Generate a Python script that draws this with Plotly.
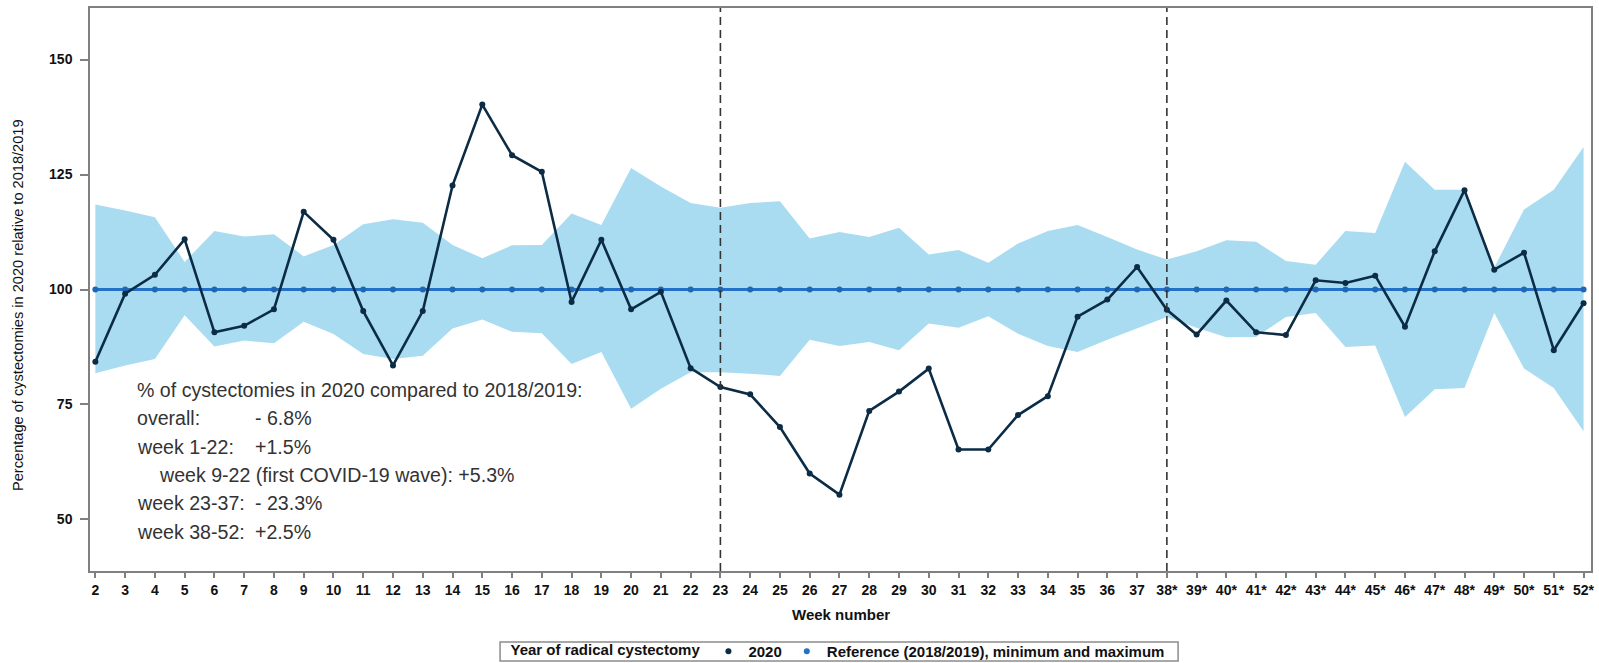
import plotly.graph_objects as go

# Week numbers (weeks 38-52 marked with an asterisk on the axis)
weeks = list(range(2, 53))
week_labels = [str(w) if w < 38 else f"{w}*" for w in weeks]

# 2020 cystectomies as % of the 2018/2019 reference
pct_2020 = [
    84.3, 99.1, 103.2, 110.9, 90.7, 92.1, 95.7, 116.9, 110.8, 95.3,
    83.5, 95.3, 122.6, 140.2, 129.2, 125.6, 97.3, 110.8, 95.7, 99.5,
    82.9, 78.8, 77.2, 70.1, 60.0, 55.4, 73.6, 77.8, 82.8, 65.2,
    65.2, 72.7, 76.8, 94.1, 97.8, 104.9, 95.6, 90.2, 97.6, 90.7,
    90.1, 102.0, 101.4, 103.0, 91.9, 108.3, 121.6, 104.3, 108.0, 86.8,
    97.0,
]

# Reference (2018/2019) level and its minimum / maximum
reference = [100] * len(weeks)
ref_max = [
    118.5, 117.2, 115.7, 106.0, 112.7, 111.5, 112.0, 107.2, 109.7, 114.2,
    115.3, 114.5, 109.7, 106.8, 109.6, 109.7, 116.5, 114.0, 126.4, 122.4,
    118.8, 117.8, 118.8, 119.2, 111.1, 112.5, 111.4, 113.4, 107.6, 108.6,
    105.8, 110.0, 112.7, 114.0, 111.4, 108.7, 106.5, 108.3, 110.7, 110.4,
    106.2, 105.4, 112.7, 112.3, 127.8, 121.7, 121.7, 104.8, 117.4, 121.7,
    131.0,
]
ref_min = [
    81.8, 83.5, 84.9, 94.4, 87.6, 88.9, 88.3, 93.0, 90.3, 86.0,
    84.9, 85.6, 91.5, 93.5, 90.8, 90.5, 83.8, 86.4, 74.1, 78.4,
    82.0, 82.0, 81.7, 81.2, 89.1, 87.7, 88.6, 86.8, 92.6, 91.7,
    94.2, 90.4, 87.7, 86.4, 89.1, 91.5, 94.0, 91.7, 89.6, 89.7,
    94.0, 94.9, 87.5, 87.8, 72.3, 78.3, 78.6, 94.9, 82.8, 78.6,
    69.2,
]

# Period boundaries
period_starts = [23, 38]

summary_lines = [
    ("% of cystectomies in 2020 compared to 2018/2019:", None, False),
    ("overall:", "- 6.8%", False),
    ("week 1-22:", "+1.5%", False),
    ("week 9-22 (first COVID-19 wave): +5.3%", None, True),
    ("week 23-37:", "- 23.3%", False),
    ("week 38-52:", "+2.5%", False),
]

BAND = "#a9dcf1"
REF_BLUE = "#2271c6"
NAVY = "#0c2c46"
FONT = "Liberation Sans, Arial, sans-serif"

fig = go.Figure()

# min/max band
fig.add_trace(go.Scatter(x=weeks, y=ref_min, mode="lines", line=dict(width=0, color=BAND),
                         showlegend=False, hoverinfo="skip"))
fig.add_trace(go.Scatter(x=weeks, y=ref_max, mode="lines", line=dict(width=0, color=BAND),
                         fill="tonexty", fillcolor=BAND, showlegend=False, hoverinfo="skip"))

# reference line
fig.add_trace(go.Scatter(x=weeks, y=reference, mode="lines+markers",
                         line=dict(color=REF_BLUE, width=3),
                         marker=dict(color="#1f66b5", size=6),
                         showlegend=False))

# 2020 line
fig.add_trace(go.Scatter(x=weeks, y=pct_2020, mode="lines+markers",
                         line=dict(color=NAVY, width=2.6),
                         marker=dict(color=NAVY, size=6),
                         showlegend=False))

# legend entries (dots only)
fig.add_trace(go.Scatter(x=[None], y=[None], mode="markers", name="<b>2020</b>",
                         marker=dict(color=NAVY, size=6)))
fig.add_trace(go.Scatter(x=[None], y=[None], mode="markers",
                         name="<b>Reference (2018/2019), minimum and maximum</b>",
                         marker=dict(color=REF_BLUE, size=6)))

shapes = []
for w in period_starts:
    shapes.append(dict(type="line", xref="x", yref="paper", x0=w, x1=w, y0=0, y1=1,
                       line=dict(color="#333333", width=1.6, dash="8px,5px")))

# frame around the legend row
shapes.append(dict(type="rect", xref="paper", yref="paper",
                   x0=0.2732, x1=0.7249, y0=-0.160, y1=-0.126,
                   line=dict(color="#8c8c8c", width=1.5), fillcolor="rgba(0,0,0,0)",
                   layer="above"))

annotations = []
line_y = [0.3215, 0.2712, 0.2208, 0.1705, 0.1202, 0.0698]
for (label, value, indent), yy in zip(summary_lines, line_y):
    annotations.append(dict(xref="paper", yref="paper", x=0.0444 if indent else 0.030, y=yy,
                            xanchor="left", yanchor="middle", text=label, showarrow=False,
                            font=dict(family=FONT, size=19.6, color="#333333")))
    if value is not None:
        annotations.append(dict(xref="paper", yref="paper", x=0.1086, y=yy,
                                xanchor="left", yanchor="middle", text=value, showarrow=False,
                                font=dict(family=FONT, size=19.6, color="#333333")))

# axis titles
annotations.append(dict(xref="paper", yref="paper", x=0, y=0.4725, xshift=-72,
                        xanchor="center", yanchor="middle", textangle=-90, showarrow=False,
                        text="Percentage of cystectomies in 2020 relative to 2018/2019",
                        font=dict(family=FONT, size=14.6, color="#111111")))
annotations.append(dict(xref="paper", yref="paper", x=0.5, y=-0.078,
                        xanchor="center", yanchor="middle", showarrow=False,
                        text="<b>Week number</b>",
                        font=dict(family=FONT, size=15, color="#111111")))

fig.update_layout(
    width=1599, height=663,
    margin=dict(l=90, r=8, t=8, b=92, autoexpand=False),
    paper_bgcolor="white", plot_bgcolor="white",
    shapes=shapes, annotations=annotations,
    showlegend=True,
    legend=dict(orientation="h", xref="container", yref="container",
                x=0.5247, xanchor="center", y=0.0173, yanchor="middle",
                traceorder="normal",
                title=dict(text="<b>Year of radical cystectomy</b>", side="left",
                           font=dict(family=FONT, size=15, color="#111111")),
                font=dict(family=FONT, size=15, color="#111111"),
                borderwidth=0, bgcolor="rgba(0,0,0,0)",
                itemwidth=30, tracegroupgap=0),
)

fig.update_xaxes(range=[1.82, 52.25], tickmode="array", tickvals=weeks, ticktext=week_labels,
                 showgrid=False, zeroline=False, showline=True, mirror=True,
                 linecolor="#808080", linewidth=1.5,
                 ticks="outside", ticklen=5, tickwidth=1.5, tickcolor="#808080",
                 tickfont=dict(family=FONT, size=14, color="#111111", weight="bold"))
fig.update_yaxes(range=[38.8, 161.2], tickvals=[50, 75, 100, 125, 150],
                 showgrid=False, zeroline=False, showline=True, mirror=True,
                 linecolor="#808080", linewidth=1.5,
                 ticks="outside", ticklen=8, tickwidth=1.5, tickcolor="#808080",
                 ticklabelstandoff=5,
                 tickfont=dict(family=FONT, size=14, color="#111111", weight="bold"))

fig.write_html("out.html")
